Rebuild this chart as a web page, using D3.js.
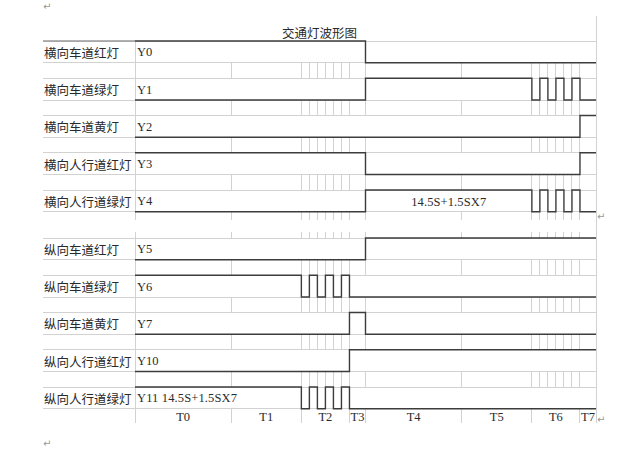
<!DOCTYPE html>
<html>
<head>
<meta charset="utf-8">
<script src="https://cdn.jsdelivr.net/npm/d3@7"></script>
<style>
  html, body { margin: 0; padding: 0; background: #fff; }
  svg { display: block; }
</style>
</head>
<body>
<script>
// ---------------- data ----------------
const title = "交通灯波形图";
const phases = ["T0", "T1", "T2", "T3", "T4", "T5", "T6", "T7"];
const phaseSpan = [12, 8.75, 6, 2, 12, 8.75, 6, 2];   // relative drawn durations
const phaseSlots = [1, 1, 6, 1, 1, 1, 6, 1];           // sub-divisions (flash steps)

const groupA = ["横向车道红灯", "横向车道绿灯", "横向车道黄灯", "横向人行道红灯", "横向人行道绿灯"];
const groupB = ["纵向车道红灯", "纵向车道绿灯", "纵向车道黄灯", "纵向人行道红灯", "纵向人行道绿灯"];
const codesA = ["Y0", "Y1", "Y2", "Y3", "Y4"];
const codesB = ["Y5", "Y6", "Y7", "Y10", "Y11 14.5S+1.5SX7"];

// waveforms: [time, level] steps (time in drawn units)
const wavesA = [
  [[0, 1], [28.75, 0]],
  [[0, 0], [28.75, 1], [49.5, 0], [50.5, 1], [51.5, 0], [52.5, 1], [53.5, 0], [54.5, 1], [55.5, 0]],
  [[0, 0], [55.5, 1]],
  [[0, 1], [28.75, 0], [55.5, 1]],
  [[0, 0], [28.75, 1], [49.5, 0], [50.5, 1], [51.5, 0], [52.5, 1], [53.5, 0], [54.5, 1], [55.5, 0]]
];
const wavesB = [
  [[0, 0], [28.75, 1]],
  [[0, 1], [20.75, 0], [21.75, 1], [22.75, 0], [23.75, 1], [24.75, 0], [25.75, 1], [26.75, 0]],
  [[0, 0], [26.75, 1], [28.75, 0]],
  [[0, 0], [26.75, 1]],
  [[0, 1], [20.75, 0], [21.75, 1], [22.75, 0], [23.75, 1], [24.75, 0], [25.75, 1], [26.75, 0]]
];
const noteText = "14.5S+1.5SX7";   // annotation inside Y4 during T4..T5

// ---------------- layout ----------------
const W = 619, H = 452;
const left = 43, colX = 135, right = 596;
const groupTop = [41, 238];
const pitch = 37.25, rowH = 21.75, labelRowH = 14.5;
const gridColor = "#d2d2d2", waveColor = "#3c3c3c";
const cjk = "'Noto Sans CJK SC', 'Noto Sans', sans-serif";
const latin = "'Liberation Serif', 'DejaVu Serif', serif";
const textColor = "#2a2a2a";

const total = d3.sum(phaseSpan);
const x = d3.scaleLinear().domain([0, total]).range([colX, right]);
const starts = [0, ...d3.cumsum(phaseSpan)];

// grid positions
const phaseLines = starts.slice();
const fineLines = [];
phases.forEach((p, i) => {
  for (let k = 0; k < phaseSlots[i]; k++) fineLines.push(starts[i] + k * phaseSpan[i] / phaseSlots[i]);
});
fineLines.push(total);

const svg = d3.select("body").append("svg").attr("width", W).attr("height", H);
svg.append("rect").attr("width", W).attr("height", H).attr("fill", "#fff");

const grid = svg.append("g").attr("stroke", gridColor).attr("stroke-width", 1).attr("shape-rendering", "crispEdges");
const waves = svg.append("g").attr("fill", "none").attr("stroke", waveColor).attr("stroke-width", 1.4);
const texts = svg.append("g");

// right page boundary line
grid.append("line").attr("x1", right).attr("x2", right).attr("y1", 16).attr("y2", groupTop[1] + 4 * pitch + rowH + labelRowH);

const groups = [
  { labels: groupA, codes: codesA, waves: wavesA },
  { labels: groupB, codes: codesB, waves: wavesB }
];

const line = d3.line().x(d => x(d[0])).y(d => d[1]).curve(d3.curveStepAfter);

groups.forEach((g, gi) => {
  const top0 = groupTop[gi];
  g.labels.forEach((lab, i) => {
    const t = top0 + i * pitch, b = t + rowH;
    const sb = t + pitch; // spacer bottom
    grid.append("line").attr("x1", left).attr("x2", right).attr("y1", t).attr("y2", t);
    grid.append("line").attr("x1", left).attr("x2", right).attr("y1", b).attr("y2", b);
    grid.append("line").attr("x1", colX).attr("x2", colX).attr("y1", t).attr("y2", b);
    const isLast = i === g.labels.length - 1;
    if (!isLast) {
      fineLines.forEach(v => grid.append("line").attr("x1", x(v)).attr("x2", x(v)).attr("y1", b).attr("y2", sb));
    }
    const w = g.waves[i];
    const pts = w.map(d => [d[0], d[1] ? t : b]);
    pts.push([total, w[w.length - 1][1] ? t : b]);
    waves.append("path").attr("d", line(pts));
    texts.append("text").attr("x", left + 1).attr("y", t + rowH / 2 + 0.5)
      .attr("dominant-baseline", "central").attr("font-family", cjk).attr("font-size", 12.5)
      .attr("fill", textColor).text(lab);
    const code = g.codes[i];
    const ct = texts.append("text").attr("x", colX + 2).attr("y", t + rowH / 2 + 0.5)
      .attr("dominant-baseline", "central").attr("font-family", latin).attr("font-size", 12.5)
      .attr("fill", textColor).attr("xml:space", "preserve").text(code);
    if (code.length > 3) ct.attr("textLength", code.length * 6.25).attr("lengthAdjust", "spacing");
  });
});

// darker top border segment in label column
svg.append("line").attr("x1", left).attr("x2", colX).attr("y1", groupTop[0]).attr("y2", groupTop[0])
  .attr("stroke", "#999").attr("stroke-width", 1.6);

// stubs between tables
const aBottom = groupTop[0] + 4 * pitch + rowH;
[[aBottom, aBottom + 8.5], [groupTop[1] - 6, groupTop[1]]].forEach(([y1, y2]) => {
  fineLines.forEach(v => grid.append("line").attr("x1", x(v)).attr("x2", x(v)).attr("y1", y1).attr("y2", y2));
});

// bottom phase label row
const bTop = groupTop[1] + 4 * pitch + rowH;
phaseLines.forEach(v => grid.append("line").attr("x1", x(v)).attr("x2", x(v)).attr("y1", bTop).attr("y2", bTop + labelRowH));
phases.forEach((p, i) => {
  texts.append("text").attr("x", x(starts[i] + phaseSpan[i] / 2)).attr("y", bTop + labelRowH / 2 + 1)
    .attr("text-anchor", "middle").attr("dominant-baseline", "central")
    .attr("font-family", latin).attr("font-size", 12.5).attr("fill", textColor).text(p);
});

// annotation in Y4 row
const y4Top = groupTop[0] + 4 * pitch;
texts.append("text").attr("x", x((starts[4] + starts[6]) / 2)).attr("y", y4Top + rowH / 2 + 1)
  .attr("text-anchor", "middle").attr("dominant-baseline", "central")
  .attr("font-family", latin).attr("font-size", 12.5).attr("fill", textColor)
  .attr("textLength", noteText.length * 6.25).attr("lengthAdjust", "spacing").text(noteText);

// title
texts.append("text").attr("x", (left + right) / 2).attr("y", 32)
  .attr("text-anchor", "middle").attr("dominant-baseline", "central")
  .attr("font-family", cjk).attr("font-size", 12.5).attr("fill", textColor).text(title);

// paragraph marks
const marks = [[left, 6], [right + 1, 216], [right + 1, 419], [left, 443]];
marks.forEach(([mx, my]) => {
  texts.append("text").attr("x", mx).attr("y", my).attr("dominant-baseline", "central")
    .attr("font-family", "'DejaVu Sans', sans-serif").attr("font-size", 10).attr("fill", "#999").text("↵");
});
</script>
</body>
</html>
